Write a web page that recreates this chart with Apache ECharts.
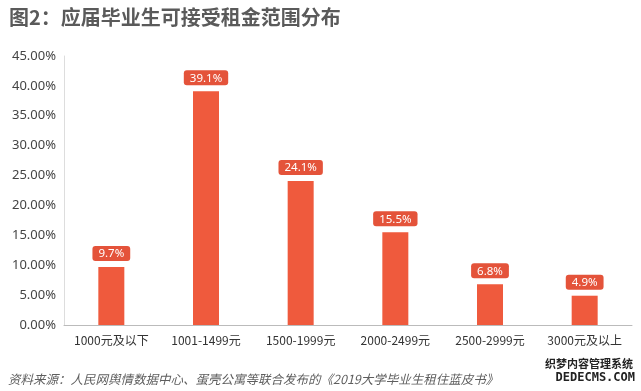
<!DOCTYPE html>
<html><head><meta charset="utf-8">
<script src="https://cdn.jsdelivr.net/npm/echarts@6/dist/echarts.min.js"></script>
<style>html,body{margin:0;padding:0;background:#fff;}#c{width:641px;height:391px;}</style>
</head><body><div id="c"></div>
<script>
const categories = ['1000元及以下','1001-1499元','1500-1999元','2000-2499元','2500-2999元','3000元及以上'];
const values = [9.7, 39.1, 24.1, 15.5, 6.8, 4.9];
const titleText = '图2：应届毕业生可接受租金范围分布';
const sourceText = '资料来源：人民网舆情数据中心、蛋壳公寓等联合发布的《2019大学毕业生租住蓝皮书》';
const chart = echarts.init(document.getElementById('c'));
chart.setOption({
  animation: false,
  backgroundColor: '#fff',
  title: [{
    text: titleText, left: 4, top: 2,
    textStyle: {fontFamily: 'Noto Sans CJK SC', fontSize: 20, fontWeight: 'bold', color: '#5a5a5a'}
  }, {
    text: sourceText, left: 3, top: 368,
    textStyle: {fontFamily: 'Noto Sans CJK SC', fontSize: 12.5, fontWeight: 'normal', fontStyle: 'italic', color: '#5e5e5e'}
  }],
  graphic: [{
    type: 'text', right: 8, top: 358,
    style: {text: '织梦内容管理系统', font: 'bold 11px "Noto Sans CJK SC"', fill: '#222'}
  }, {
    type: 'text', right: 6, top: 372,
    style: {text: 'DEDECMS.COM', font: 'bold 12px "DejaVu Sans Mono"', fill: '#222'}
  }],
  grid: {left: 64, right: 9, top: 56, bottom: 66, containLabel: false},
  xAxis: {
    type: 'category', data: categories,
    axisLine: {lineStyle: {color: '#bbb'}},
    axisTick: {show: false},
    axisLabel: {color: '#333', fontSize: 12, fontFamily: 'Noto Sans CJK SC', margin: 9, interval: 0}
  },
  yAxis: {
    type: 'value', min: 0, max: 45, interval: 5,
    axisLine: {show: true, lineStyle: {color: '#ddd'}},
    axisTick: {show: false},
    splitLine: {show: false},
    axisLabel: {color: '#444', fontSize: 13, fontFamily: 'Noto Sans', margin: 8,
      formatter: v => v.toFixed(2) + '%'}
  },
  series: [{
    type: 'bar', data: values, barWidth: 26,
    itemStyle: {color: '#EF5A3D'},
    label: {
      show: true, position: 'top', distance: 6,
      formatter: p => p.value.toFixed(1) + '%',
      color: '#fff', fontSize: 11.5, fontFamily: 'Noto Sans',
      backgroundColor: '#E4533A', borderRadius: 3,
      padding: [2, 6, 1, 6]
    }
  }]
});
</script></body></html>
